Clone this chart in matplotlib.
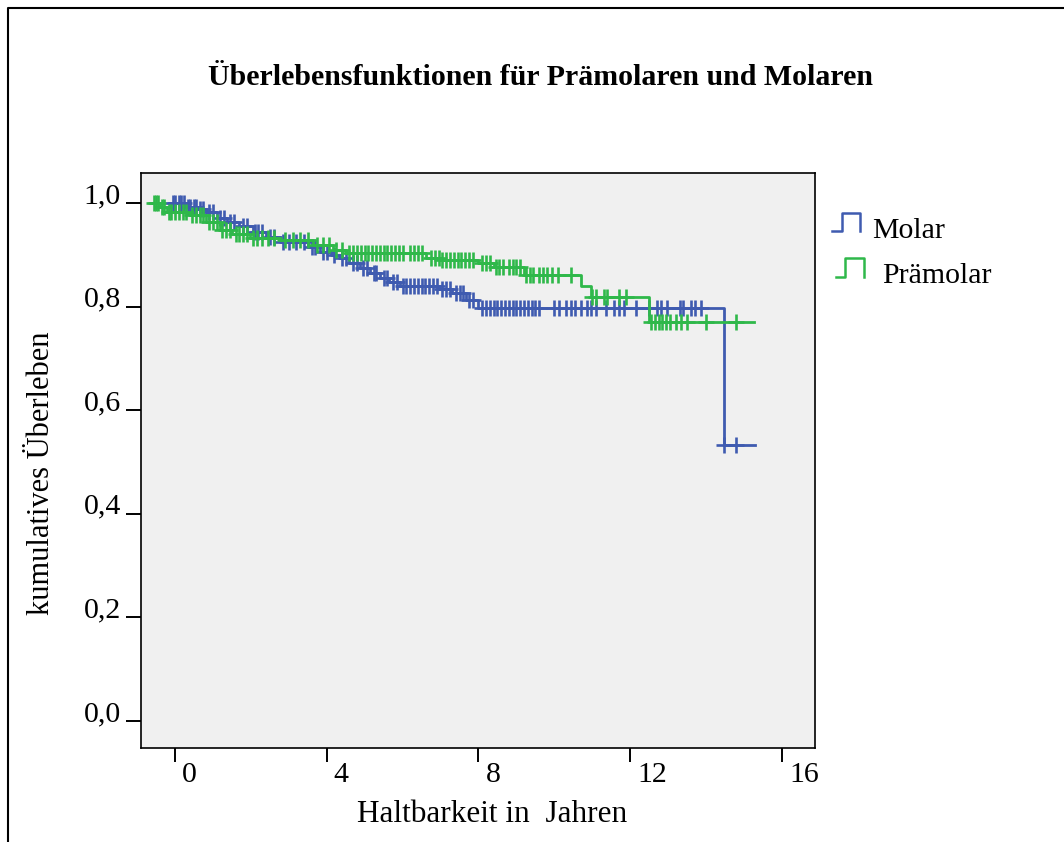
import numpy as np
import matplotlib
matplotlib.use('Agg')
import matplotlib.pyplot as plt
from matplotlib.lines import Line2D
from matplotlib.transforms import ScaledTranslation

# Kaplan-Meier Stufen: Zeitpunkt, Überleben danach
molar_t = [-0.13, 0.3, 0.6, 0.83, 1.1, 1.36, 1.7, 2.05, 2.4, 2.76, 3.5, 3.82,
           4.1, 4.34, 4.6, 4.87, 5.15, 5.4, 5.65, 5.92, 6.97, 7.3, 7.68, 8.0, 14.47]
molar_s = [1.0, 0.993, 0.988, 0.983, 0.972, 0.964, 0.955, 0.944, 0.935, 0.925, 0.915, 0.906,
           0.9, 0.894, 0.884, 0.874, 0.864, 0.855, 0.848, 0.84, 0.835, 0.826, 0.812, 0.797, 0.532]
molar_end = 15.3
molar_cens = [-0.05, 0.0, 0.1, 0.15, 0.25, 0.35, 0.4, 0.5, 0.55, 0.65, 0.75, 0.9, 1.0, 1.2,
              1.3, 1.45, 1.55, 1.8, 1.9, 2.1, 2.2, 2.3, 2.5, 2.6, 2.85, 3.0, 3.2, 3.4, 3.6,
              3.7, 3.9, 4.0, 4.2, 4.4, 4.5, 4.7, 4.8, 4.95, 5.05, 5.25, 5.3, 5.5, 5.6, 5.75,
              5.85, 6.0, 6.1, 6.2, 6.3, 6.4, 6.5, 6.6, 6.7, 6.8, 6.9, 7.05, 7.15, 7.25, 7.4,
              7.5, 7.6, 7.75, 7.85, 8.1, 8.2, 8.3, 8.4, 8.5, 8.6, 8.7, 8.8, 8.9, 9.0, 9.1,
              9.2, 9.3, 9.4, 9.5, 9.6, 10.0, 10.13, 10.3, 10.45, 10.55, 10.7, 10.85, 10.96,
              11.1, 11.37, 11.58, 11.7, 11.84, 12.15, 12.5, 12.7, 12.8, 12.97, 13.3, 13.4,
              13.6, 13.7, 13.87, 14.47, 14.8]

pre_t = [-0.61, -0.4, -0.22, 0.39, 0.83, 1.18, 1.5, 1.97, 2.76, 3.64, 4.17, 4.5,
         6.63, 7.0, 8.0, 8.4, 9.2, 10.7, 10.97, 12.5]
pre_s = [1.0, 0.993, 0.983, 0.977, 0.964, 0.948, 0.94, 0.932, 0.928, 0.919, 0.909, 0.903,
         0.894, 0.89, 0.884, 0.876, 0.861, 0.84, 0.819, 0.77]
pre_end = 15.26
pre_cens = [-0.55, -0.5, -0.45, -0.35, -0.3, -0.15, -0.1, 0.0, 0.1, 0.2, 0.3, 0.45, 0.55,
            0.65, 0.75, 0.9, 1.0, 1.1, 1.25, 1.35, 1.45, 1.6, 1.7, 1.8, 1.9, 2.05, 2.15,
            2.3, 2.45, 2.6, 2.9, 3.1, 3.3, 3.5, 3.75, 3.9, 4.05, 4.25, 4.4, 4.6, 4.7, 4.8,
            4.9, 5.0, 5.1, 5.2, 5.3, 5.4, 5.5, 5.6, 5.7, 5.8, 5.9, 6.0, 6.2, 6.3, 6.4, 6.5,
            6.75, 6.85, 6.95, 7.05, 7.15, 7.25, 7.35, 7.45, 7.55, 7.65, 7.75, 7.85, 8.1,
            8.2, 8.3, 8.45, 8.55, 8.65, 8.8, 8.9, 9.0, 9.1, 9.25, 9.35, 9.45, 9.6, 9.7,
            9.8, 9.95, 10.1, 10.45, 11.0, 11.1, 11.3, 11.4, 11.7, 11.9, 12.55, 12.65,
            12.75, 12.85, 12.95, 13.05, 13.2, 13.35, 13.5, 14.0, 14.8]

x_ticks = [0, 4, 8, 12, 16]
y_ticks = [0.0, 0.2, 0.4, 0.6, 0.8, 1.0]
y_labels = ['0,0', '0,2', '0,4', '0,6', '0,8', '1,0']

BLUE = '#3f5bb0'
GREEN = '#2fb84a'
W, H = 1064, 842

plt.rcParams['font.family'] = ['Liberation Serif', 'DejaVu Serif']
fs = 21.5

fig = plt.figure(figsize=(W / 100, H / 100), dpi=100)
ax = fig.add_axes([141 / W, 1 - 748 / H, 674 / W, (748 - 173) / H])
ax.set_facecolor('#f0f0f0')


def km(ax, t, s, end, cens, color):
    xs = list(t) + [end]
    ys = list(s) + [s[-1]]
    ax.step(xs, ys, where='post', color=color, lw=2.0, zorder=3)
    idx = np.searchsorted(t, cens, side='right') - 1
    cy = np.array(s)[idx]
    ax.plot(cens, cy, ls='none', marker='+', ms=11, mew=1.9, color=color, zorder=3)


km(ax, molar_t, molar_s, molar_end, molar_cens, BLUE)
km(ax, pre_t, pre_s, pre_end, pre_cens, GREEN)

ax.set_xlim(-0.895, 16.87)
ax.set_ylim(-0.052, 1.058)
ax.set_xticks(x_ticks)
ax.set_xticklabels([str(v) for v in x_ticks])
ax.set_yticks(y_ticks)
ax.set_yticklabels(y_labels)
ax.tick_params(axis='x', direction='out', length=10, width=1.4, pad=0, labelsize=fs)
ax.tick_params(axis='y', direction='out', length=10.8, width=1.4, pad=3.6, labelsize=fs)
for lab in ax.get_xticklabels():
    lab.set_horizontalalignment('left')
    lab.set_transform(lab.get_transform() + ScaledTranslation(0.07, 0, fig.dpi_scale_trans))
for lab in ax.get_yticklabels():
    lab.set_transform(lab.get_transform() + ScaledTranslation(0, 0.10, fig.dpi_scale_trans))
for sp in ax.spines.values():
    sp.set_linewidth(1.2)


def px(x, y):
    return x / W, 1 - y / H


tf = fig.transFigure
fig.text(*px(541, 85), 'Überlebensfunktionen für Prämolaren und Molaren', ha='center',
         va='baseline', fontsize=fs, fontweight='bold')
fig.text(*px(492, 815), 'Haltbarkeit in  Jahren', ha='center', va='center', fontsize=22.5)
fig.text(*px(42, 473), 'kumulatives Überleben', ha='center', va='center', rotation=90,
         fontsize=22)

# Legende
for pts, color, label, tx, ty in [
        ([(832, 231), (842, 231), (842, 213), (860, 213), (860, 231)], BLUE, 'Molar', 872, 238),
        ([(836, 277), (845, 277), (845, 258), (864, 258), (864, 277)], GREEN, 'Prämolar', 882, 283)]:
    xy = [px(a, b) for a, b in pts]
    fig.add_artist(Line2D([p[0] for p in xy], [p[1] for p in xy], transform=tf,
                          color=color, lw=1.8))
    fig.text(*px(tx, ty), label, ha='left', va='baseline', fontsize=fs)

# äußerer Rahmen
fr = [px(8, H + 5), px(8, 8), px(W + 5, 8)]
fig.add_artist(Line2D([p[0] for p in fr], [p[1] for p in fr], transform=tf,
                      color='black', lw=1.5))

fig.savefig('out.png', dpi=100)
